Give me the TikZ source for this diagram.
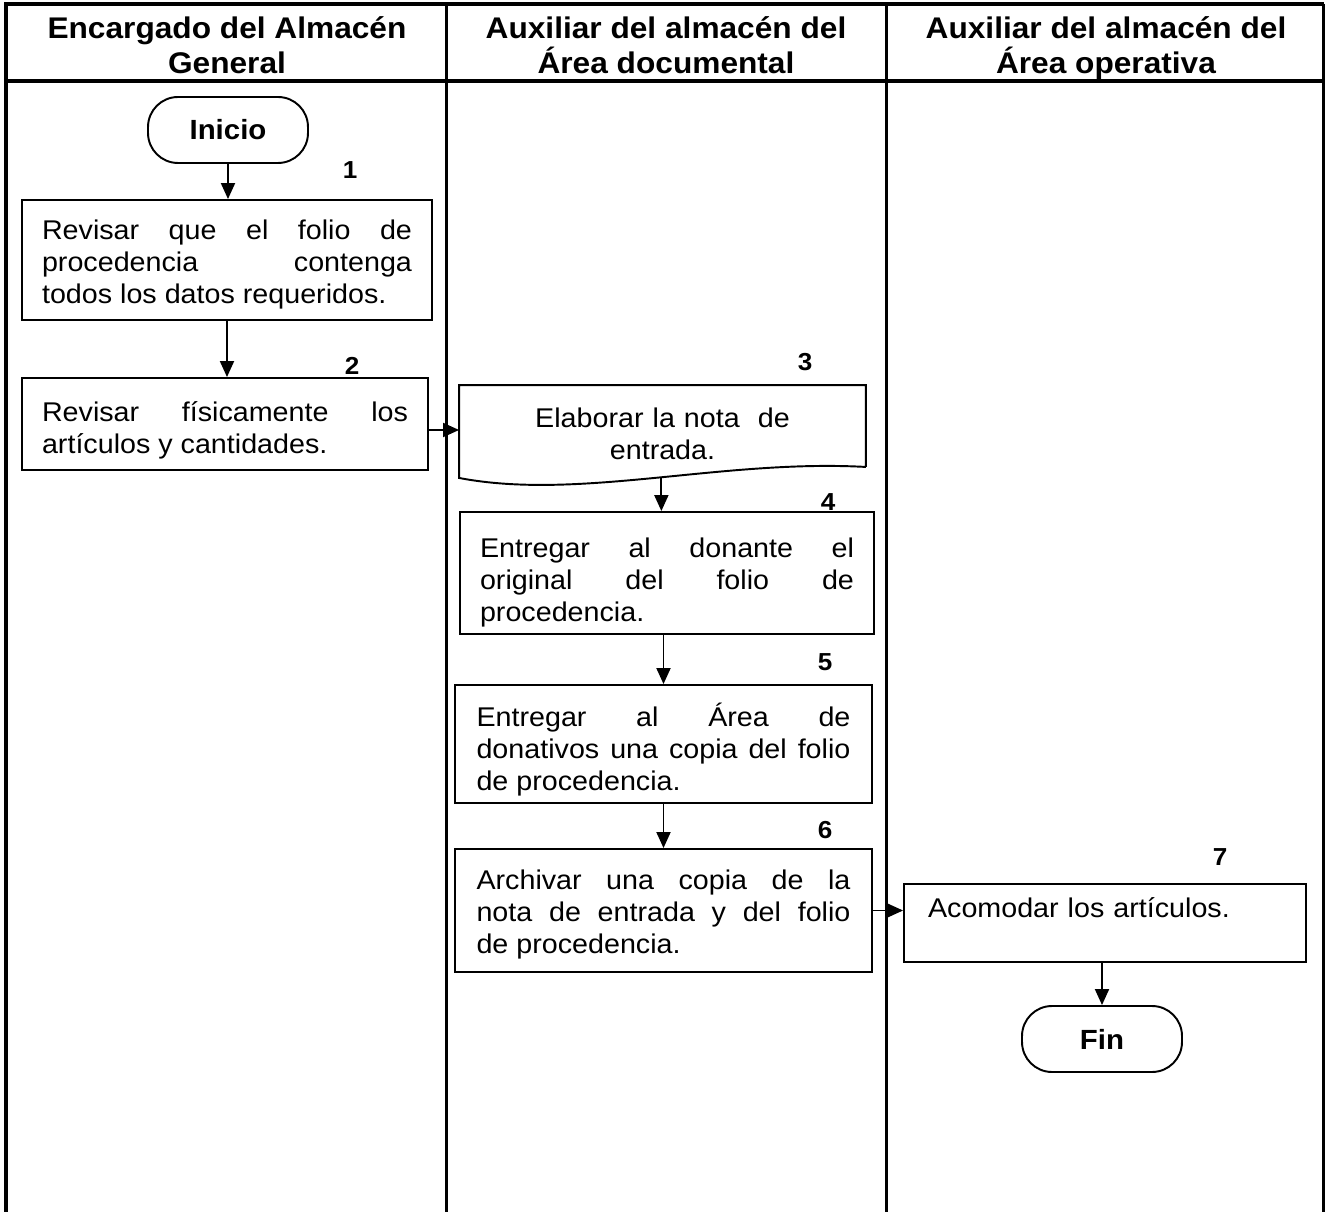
\documentclass[tikz,border=0pt]{standalone}
\usepackage{fontspec}
\setmainfont{Liberation Sans}[FakeStretch=1.06]
\usetikzlibrary{arrows.meta,calc}

\begin{document}
\begin{tikzpicture}[x=0.02cm,y=-0.02cm,->,>={Triangle[length=0.32cm,width=0.28cm]},line width=1.1pt]
\tikzstyle{every node}=[font=\fontsize{15.4}{18.2}\selectfont]
\tikzstyle{stepbox}=[draw,rectangle,align=justify,inner xsep=0.4cm,inner ysep=0pt]
\tikzstyle{docbox}=[rectangle,align=center,inner xsep=0.4cm,inner ysep=0pt]
\tikzstyle{term}=[draw,rectangle,rounded corners=0.6cm,minimum width=3.2cm,minimum height=1.32cm,font=\fontsize{15.8}{17}\selectfont\bfseries]
\tikzstyle{num}=[font=\fontsize{14}{15}\selectfont\bfseries]
\tikzstyle{head}=[align=center,font=\fontsize{17}{20}\selectfont\bfseries]
\tikzstyle{lane}=[-,line width=2.3pt]
\tikzstyle{sep}=[-,line width=1.7pt]

\useasboundingbox (0,0) rectangle (1325,1212);

% swimlanes
\draw[lane] (6,1212) -- (6,4) -- (1323.5,4);
\draw[sep] (1323.5,4) -- (1323.5,1212);
\draw[lane] (4,81) -- (1325,81);
\draw[sep] (446.5,4) -- (446.5,1212);
\draw[sep] (886,4) -- (886,1212);

\node[head] (h1) at (227,46)  {\rule{0pt}{15pt}Encargado del Almacén\\General\rule[-4pt]{0pt}{4pt}};
\node[head] (h2) at (666,46)  {\rule{0pt}{15pt}Auxiliar del almacén del\\Área documental\rule[-4pt]{0pt}{4pt}};
\node[head] (h3) at (1106,46) {\rule{0pt}{15pt}Auxiliar del almacén del\\Área operativa\rule[-4pt]{0pt}{4pt}};

% steps
\node[term] (ini) at (228,130) {Inicio};
\node[stepbox,text width=7.4cm,minimum width=8.2cm,minimum height=2.4cm] (b1) at (227,260)
  {\rule{0pt}{16pt}Revisar que el folio de\linebreak procedencia contenga\linebreak todos los datos requeridos.};
\node[stepbox,text width=7.32cm,minimum width=8.12cm,minimum height=1.84cm] (b2) at (225,424)
  {\rule{0pt}{19pt}Revisar físicamente los\linebreak artículos y cantidades.};
\node[docbox,text width=7.3cm,minimum width=8.1cm,minimum height=1.76cm] (b3) at (662.5,430)
  {\rule{0pt}{16pt}Elaborar la nota\ \ de\\entrada.};
\node[stepbox,text width=7.48cm,minimum width=8.2cm,minimum height=2.44cm] (b4) at (667,573)
  {\rule{0pt}{22pt}Entregar al donante el\linebreak original del folio de\linebreak procedencia.};
\node[stepbox,text width=7.48cm,minimum width=8.34cm,minimum height=2.36cm] (b5) at (663.5,744)
  {\rule{0pt}{20pt}Entregar al Área de\linebreak donativos una copia del folio\linebreak de procedencia.};
\node[stepbox,text width=7.48cm,minimum width=8.34cm,minimum height=2.46cm] (b6) at (663.5,910.5)
  {\rule{0pt}{16pt}Archivar una copia de la\linebreak nota de entrada y del folio\linebreak de procedencia.};
\node[stepbox,align=left,text width=7.08cm,inner xsep=0.48cm,text height=0.66cm,text depth=0.9cm] (b7) at (1105,923)
  {Acomodar los artículos.};
\node[term] (fin) at (1102,1039) {Fin};

% document outline of step 3
\draw[-] ($(b3.south east)+(0,-8)$) -- (b3.north east) -- (b3.north west) -- ($(b3.south west)+(0,3)$)
  .. controls +(120,23) and +(-145,-8) .. coordinate[pos=0.52] (b3w) ($(b3.south east)+(0,-8)$);

% step numbers
\node[num] (n1) at (350,170) {1};
\node[num] (n2) at (352,366) {2};
\node[num] (n3) at (805,362) {3};
\node[num] (n4) at (828,502) {4};
\node[num] (n5) at (825,662) {5};
\node[num] (n6) at (825,830) {6};
\node[num] (n7) at (1220,857) {7};

% flow
\draw (ini) -- (ini |- b1.north);
\draw (b1) -- (b1 |- b2.north);
\draw ([yshift=-0.12cm]b2.east) -- ([yshift=-0.12cm]b2.east -| b3.west);
\draw (b3w) -- (b3w |- b4.north);
\draw (b5.north |- b4.south) -- (b5);
\draw (b5) -- (b6);
\draw (b6) -- (b6 -| b7.west);
\draw (fin |- b7.south) -- (fin);
\end{tikzpicture}
\end{document}
